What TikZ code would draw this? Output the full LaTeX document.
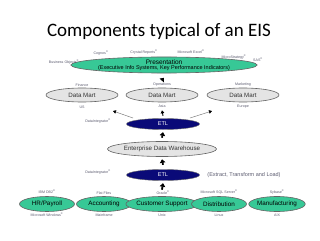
\documentclass[tikz,border=0pt]{standalone}
\usepackage{fontspec}
\setmainfont{Liberation Sans}
\newfontfamily\titlefont{Carlito}
\usetikzlibrary{arrows.meta,shapes.geometric}
\definecolor{eisgreen}{RGB}{55,200,150}
\definecolor{eisnavy}{RGB}{10,10,120}
\definecolor{eisgrayfill}{RGB}{228,228,228}
\definecolor{eisline}{RGB}{100,100,100}
\definecolor{eislabel}{RGB}{90,90,110}
\tikzset{
  greenell/.style={ellipse, draw=eisline, line width=0.6pt, fill=eisgreen, inner sep=0pt, font=\fontsize{6.3}{7}\selectfont},
  grayell/.style={ellipse, draw=eisline, line width=0.6pt, fill=eisgrayfill, inner sep=0pt, font=\fontsize{6.2}{7}\selectfont, text=black!80},
  navyell/.style={ellipse, draw=eisline, line width=0.4pt, fill=eisnavy, inner sep=0pt, text=white, font=\fontsize{5.5}{6}\selectfont},
  tinylab/.style={font=\fontsize{3.6}{4}\selectfont, text=eislabel, inner sep=0pt},
  bigarrow/.style={-{Triangle[length=3.5pt,width=5.5pt]}, line width=1.8pt, black},
  thinarrow/.style={-{Triangle[length=3pt,width=3.5pt,color=black]}, line width=0.5pt, draw=gray},
  midarrow/.style={-{Triangle[length=3pt,width=3.5pt]}, line width=0.9pt, black},
}
\begin{document}
\begin{tikzpicture}[x=1pt,y=-1pt]
\useasboundingbox (0,0) rectangle (320,240);
\node[font=\titlefont\fontsize{19}{22}\selectfont] (title) at (159,31) {Components typical of an EIS};

% Presentation
\node[greenell, minimum width=155pt, minimum height=15pt, font=\fontsize{5.5}{6}\selectfont, align=center] (pres) at (164,65) {\fontsize{6.5}{6}\selectfont Presentation\\[-0.5pt](Executive Info Systems, Key Performance Indicators)};
\node[tinylab] (l1) at (64,62) {Business Objects\textsuperscript{®}};
\node[tinylab] (l2) at (101,53) {Cognos\textsuperscript{®}};
\node[tinylab] (l3) at (144,52) {Crystal Reports\textsuperscript{®}};
\node[tinylab] (l4) at (191,52) {Microsoft Excel\textsuperscript{®}};
\node[tinylab] (l5) at (234,57) {MicroStrategy\textsuperscript{®}};
\node[tinylab] (l6) at (258,60) {SAS\textsuperscript{®}};

% Data marts
\node[grayell, minimum width=72pt, minimum height=14pt] (dm1) at (82,95) {Data Mart};
\node[grayell, minimum width=72pt, minimum height=14pt] (dm2) at (162,95) {Data Mart};
\node[grayell, minimum width=72pt, minimum height=14pt] (dm3) at (243,95) {Data Mart};
\node[tinylab] (f1) at (82,85) {Finance};
\node[tinylab] (f2) at (162,85) {Operations};
\node[tinylab] (f3) at (243,85) {Marketing};
\node[tinylab] (g1) at (82,107) {US};
\node[tinylab] (g2) at (162,106.5) {Asia};
\node[tinylab] (g3) at (243,107) {Europe};

% ETL 1
\node[navyell, minimum width=73pt, minimum height=11pt] (etl1) at (163,124) {ETL};
\node[tinylab] (i1) at (98,121) {DataIntegrator\textsuperscript{®}};

% EDW
\node[grayell, minimum width=109pt, minimum height=15pt] (edw) at (162,149) {Enterprise Data Warehouse};

% ETL 2
\node[navyell, minimum width=73pt, minimum height=11pt] (etl2) at (163,175) {ETL};
\node[tinylab] (i2) at (98,172) {DataIntegrator\textsuperscript{®}};
\node[font=\fontsize{5.5}{6}\selectfont, text=eislabel, inner sep=0pt] (etlnote) at (244,175) {(Extract, Transform and Load)};

% Sources
\node[greenell, minimum width=55pt, minimum height=15pt] (s1) at (47,204) {HR/Payroll};
\node[greenell, minimum width=55pt, minimum height=15pt] (s2) at (104,204) {Accounting};
\node[greenell, minimum width=55pt, minimum height=15pt] (s3) at (162,204) {Customer Support};
\node[greenell, minimum width=55pt, minimum height=15pt] (s4) at (219,204) {Distribution};
\node[greenell, minimum width=55pt, minimum height=15pt] (s5) at (277,204) {Manufacturing};
\node[tinylab] (a1) at (47,192) {IBM DB2\textsuperscript{®}};
\node[tinylab] (a2) at (104,193) {Flat Files};
\node[tinylab] (a3) at (163,192.5) {Oracle\textsuperscript{®}};
\node[tinylab] (a4) at (219,192) {Microsoft SQL Server\textsuperscript{®}};
\node[tinylab] (a5) at (277,192) {Sybase\textsuperscript{®}};
\node[tinylab] (b1) at (47,215) {Microsoft Windows\textsuperscript{®}};
\node[tinylab] (b2) at (104,215) {Mainframe};
\node[tinylab] (b3) at (162,215) {Unix};
\node[tinylab] (b4) at (219,215) {Linux};
\node[tinylab] (b5) at (277,215) {AIX};

% Arrows
\draw[bigarrow] ([yshift=6.5pt]s3.north) -- ([yshift=-2.5pt]etl2.south);
\draw[bigarrow] ([yshift=4.5pt]etl2.north) -- ([yshift=-2.5pt]edw.south);
\draw[bigarrow] ([yshift=3.5pt]edw.north) -- ([yshift=-2.5pt]etl1.south);
\draw[bigarrow] ([yshift=3pt]f2.north) -- ([yshift=-4.5pt]pres.south);
\draw[midarrow] ([yshift=2.5pt]etl1.north) -- ([yshift=-8pt]dm2.south);
\draw[thinarrow] ([shift={(-30pt,6pt)}]etl1.center) -- ([shift={(31pt,-16pt)}]dm1.center);
\draw[thinarrow] ([shift={(27pt,6pt)}]etl1.center) -- ([shift={(-31pt,-16pt)}]dm3.center);
\end{tikzpicture}
\end{document}
